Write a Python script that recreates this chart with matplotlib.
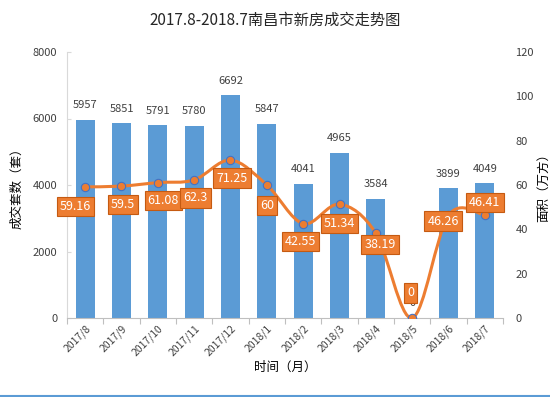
import matplotlib.pyplot as plt
import numpy as np
from matplotlib.path import Path
from matplotlib.patches import PathPatch
from matplotlib.lines import Line2D

plt.rcParams['font.family'] = ['Noto Sans CJK SC', 'DejaVu Sans']

months = ['2017/8', '2017/9', '2017/10', '2017/11', '2017/12', '2018/1',
          '2018/2', '2018/3', '2018/4', '2018/5', '2018/6', '2018/7']
units = [5957, 5851, 5791, 5780, 6692, 5847, 4041, 4965, 3584, 0, 3899, 4049]
area = [59.16, 59.5, 61.08, 62.3, 71.25, 60, 42.55, 51.34, 38.19, 0, 46.26, 46.41]
area_labels = ['59.16', '59.5', '61.08', '62.3', '71.25', '60', '42.55',
               '51.34', '38.19', '0', '46.26', '46.41']
# label box offsets (points)
lab_off = [(-7, -14), (1, -13), (4, -13), (1, -13), (1, -13), (0, -15),
           (-2, -13), (0, -14), (3, -8), (-1, 18), (-4, -4), (0, 9)]

bar_c = '#5B9BD5'
line_c = '#ED7D31'

fig = plt.figure(figsize=(5.5, 3.97), dpi=100)
ax = fig.add_axes([67/550, 1-318/397, 436/550, 266/397])
x = np.arange(len(months))
ax.bar(x, units, width=0.52, color=bar_c, zorder=2)
for xi, v in zip(x, units):
    ax.annotate(str(v), (xi, v), xytext=(0, 10.5), textcoords='offset points',
                ha='center', va='center', fontsize=8, color='#404040', zorder=1)
ax.set_xlim(-0.5, len(months) - 0.5)
ax.set_ylim(0, 8000)
ax.set_yticks(range(0, 8001, 2000))
ax.set_xticks(np.arange(-0.5, len(months), 1), minor=False)
ax.set_xticklabels([])
ax.set_xticks(x, minor=True)
ax.set_xticklabels(months, minor=True, rotation=45, ha='right',
                   rotation_mode='anchor', fontsize=7.5, color='#404040')
ax.tick_params(axis='x', which='minor', length=0, pad=4)
ax.tick_params(axis='x', which='major', length=4, color='#BFBFBF')
ax.tick_params(axis='y', length=3, direction='in', pad=7, color='#D9D9D9',
               labelsize=8, labelcolor='#404040')
for s in ['top', 'right']:
    ax.spines[s].set_visible(False)
ax.spines['left'].set_color('#D9D9D9')
ax.spines['bottom'].set_color('#BFBFBF')
ax.set_ylabel('成交套数（套）', fontsize=9)
ax.yaxis.set_label_coords(-44/436, 0.5)
ax.set_xlabel('时间（月）', fontsize=9, labelpad=2)

ax2 = ax.twinx()
ax2.set_ylim(0, 120)
ax2.set_yticks(range(0, 121, 20))
ax2.tick_params(axis='y', length=0, pad=9, labelsize=8, labelcolor='#404040')
for s in ['top', 'left', 'bottom', 'right']:
    ax2.spines[s].set_visible(False)
ax2.set_ylabel('面积（万方）', fontsize=9, rotation=90)
ax2.yaxis.set_label_position('right')
ax2.yaxis.set_label_coords(1 + 34/436, 0.5)

# smooth line: Catmull-Rom segments drawn as cubic Bezier paths
pts = np.column_stack([x, area]).astype(float)
verts = [pts[0]]
codes = [Path.MOVETO]
for i in range(len(pts) - 1):
    p0 = pts[i - 1] if i > 0 else pts[i]
    p1, p2 = pts[i], pts[i + 1]
    p3 = pts[i + 2] if i + 2 < len(pts) else pts[i + 1]
    c1 = p1 + (p2 - p0) / 6
    c2 = p2 - (p3 - p1) / 6
    verts += [c1, c2, p2]
    codes += [Path.CURVE4] * 3
ax2.add_patch(PathPatch(Path(verts, codes), fill=False, edgecolor=line_c,
                        lw=2.2, zorder=3))
ax2.plot(x, area, ls='none', marker='o', ms=6, mfc=line_c, mec='#4472C4',
         mew=0.8, zorder=4)
for xi, v, t, off in zip(x, area, area_labels, lab_off):
    ax2.annotate(t, (xi, v), xytext=off, textcoords='offset points',
                 ha='center', va='center', fontsize=9, color='white',
                 bbox=dict(boxstyle='square,pad=0.25', fc=line_c,
                           ec='#C55A11', lw=0.8), zorder=5)

fig.text(0.5, 1 - 20/397, '2017.8-2018.7南昌市新房成交走势图', ha='center',
         va='center', fontsize=11, color='#262626')
fig.add_artist(Line2D([0, 1], [0.003, 0.003], color='#5B9BD5', lw=1.5))

fig.savefig('out.png', dpi=100)
